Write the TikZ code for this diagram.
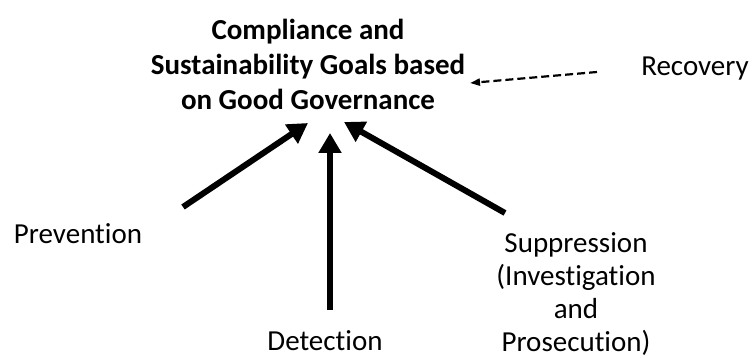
\documentclass[tikz,border=0pt]{standalone}
\usepackage{fontspec}
\setmainfont{Carlito}[Ligatures=CommonOff]
\usetikzlibrary{arrows.meta}
\begin{document}
\begin{tikzpicture}[x=1pt,y=-1pt,
	lbl/.style={align=center,font=\fontsize{29}{33}\selectfont,inner sep=0pt},
	thick arrow/.style={line width=6pt,-{Triangle[length=20pt,width=22pt]}},
	dash arrow/.style={line width=2.2pt,dash pattern=on 8pt off 4pt,-{Triangle[length=10pt,width=7pt]}}]
	\useasboundingbox (0,0) rectangle (752,358);
	\node[lbl,font=\fontsize{29}{35}\selectfont\bfseries] (goal) at (308,64) {Compliance and\\Sustainability Goals based\\on Good Governance};
	\node[lbl,anchor=base] (prevention) at (78,243) {Prevention};
	\node[lbl,anchor=base] (detection) at (325,350) {Detection};
	\node[lbl] (suppression) at (576,294) {Suppression\\(Investigation\\and\\Prosecution)};
	\node[lbl,anchor=base] (recovery) at (695,76) {Recovery};
	% arrow ends
	\coordinate (prevTail) at (183,207);
	\coordinate (prevTip) at (308,123);
	\coordinate (detTail) at (330,310);
	\coordinate (detTip) at (330,133);
	\coordinate (suppTail) at (505,213);
	\coordinate (suppTip) at (344,122);
	\coordinate (recTail) at (597,72);
	\coordinate (recTip) at (470,83);
	\draw[thick arrow] (prevTail) -- (prevTip);
	\draw[thick arrow] (detTail) -- (detTip);
	\draw[thick arrow] (suppTail) -- (suppTip);
	\draw[dash arrow] (recTail) -- (recTip);
\end{tikzpicture}
\end{document}
